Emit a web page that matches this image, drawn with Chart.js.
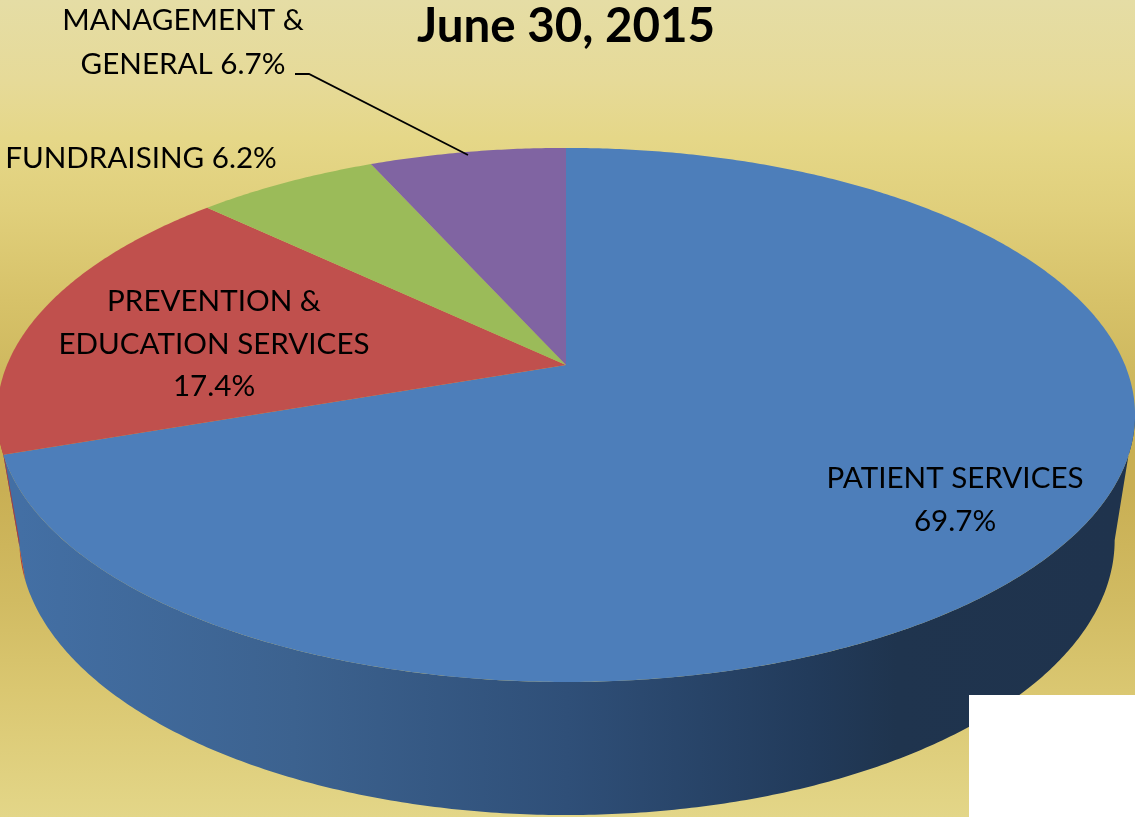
<!DOCTYPE html>
<html>
<head>
<meta charset="utf-8">
<style>
html,body{margin:0;padding:0;background:#fff;overflow:hidden}
canvas{display:block}
</style>
<script src="https://cdn.jsdelivr.net/npm/chart.js@4/dist/chart.umd.min.js"></script>
</head>
<body>
<canvas id="c" width="1135" height="817"></canvas>
<script>
const categories = ['PATIENT SERVICES','PREVENTION & EDUCATION SERVICES','FUNDRAISING','MANAGEMENT & GENERAL'];
const values = [69.7,17.4,6.2,6.7];
const titleText = 'June 30, 2015';
const sliceColors = ['#4D7EBA','#C0504D','#9BBB59','#8064A2'];

const FONT = 'Lato, "Open Sans", sans-serif';
const top3d = {cx:566, cy:365, A:559, B:257.7, p:0.187};
const low3d = {cx:567, cy:488.6, A:538, B:265.4, p:0.187};
const silhouette = 100.8*Math.PI/180;
const project = (g,phi)=>{
  const u=Math.sin(phi), v=Math.cos(phi), w=1+g.p*v;
  return [g.cx+g.A*u/w, g.cy-g.B*v/w];
};
const labelItems = [
  {t:'MANAGEMENT &',x:183,y:30},
  {t:'GENERAL 6.7%',x:183,y:74},
  {t:'FUNDRAISING 6.2%',x:141,y:168},
  {t:'PREVENTION &',x:214,y:311},
  {t:'EDUCATION SERVICES',x:214,y:354},
  {t:'17.4%',x:214,y:396},
  {t:'PATIENT SERVICES',x:955,y:488},
  {t:'69.7%',x:955,y:531}
];

const bgPlugin = {
  id:'bg',
  beforeDraw(chart){
    const {ctx,width,height}=chart;
    const g=ctx.createLinearGradient(0,0,0,height);
    [[0,'#E5DDA5'],[0.1,'#E6DA98'],[0.17,'#E5D788'],[0.257,'#E0CF7B'],[0.367,'#D7C269'],
     [0.453,'#CFB95F'],[0.55,'#C9AF52'],[0.6,'#C9AF54'],[0.735,'#D1BB62'],[0.845,'#DAC771'],[1,'#E3D688']]
      .forEach(s=>g.addColorStop(s[0],s[1]));
    ctx.save();ctx.fillStyle=g;ctx.fillRect(0,0,width,height);ctx.restore();
  }
};

const pie3d = {
  id:'pie3d',
  beforeDatasetDraw(chart,args){
    const {ctx}=chart;
    const arcs=chart.getDatasetMeta(args.index).data;
    const range=arcs.map(a=>{
      const p=a.getProps(['startAngle','endAngle'],true);
      return [p.startAngle+Math.PI/2,p.endAngle+Math.PI/2];
    });
    ctx.save();
    const sideGrad=ctx.createLinearGradient(20,0,1115,0);
    sideGrad.addColorStop(0,'#436FA4');
    sideGrad.addColorStop(0.25,'#3C628F');
    sideGrad.addColorStop(0.5,'#2F4F78');
    sideGrad.addColorStop(0.72,'#223B5B');
    sideGrad.addColorStop(0.8,'#1F344E');
    sideGrad.addColorStop(1,'#1F334D');
    const a0=silhouette, a1=2*Math.PI-silhouette;
    arcs.forEach((arc,i)=>{
      const s=Math.max(range[i][0],a0), e=Math.min(range[i][1],a1);
      if(e<=s) return;
      const pts=[];
      const n=Math.ceil((e-s)/(Math.PI/360));
      for(let k=0;k<=n;k++) pts.push(project(top3d,s+(e-s)*k/n));
      for(let k=n;k>=0;k--) pts.push(project(low3d,s+(e-s)*k/n));
      ctx.beginPath();
      pts.forEach((q,j)=>j?ctx.lineTo(q[0],q[1]):ctx.moveTo(q[0],q[1]));
      ctx.closePath();
      ctx.fillStyle = i===0 ? sideGrad : '#B03A37';
      ctx.fill();
    });
    arcs.forEach((arc,i)=>{
      const [s,e]=range[i];
      const n=Math.ceil((e-s)/(Math.PI/360));
      ctx.beginPath();
      ctx.moveTo(top3d.cx,top3d.cy);
      for(let k=0;k<=n;k++){const q=project(top3d,s+(e-s)*k/n);ctx.lineTo(q[0],q[1]);}
      ctx.closePath();
      ctx.fillStyle=arc.options.backgroundColor;
      ctx.fill();
    });
    ctx.restore();
    return false;
  }
};

const overlay = {
  id:'overlay',
  afterDatasetsDraw(chart){
    const {ctx}=chart;
    ctx.save();
    ctx.fillStyle='#FFFFFF';
    ctx.fillRect(969,695,166,122);
    ctx.strokeStyle='#000';ctx.lineWidth=1.8;
    ctx.beginPath();ctx.moveTo(295,74);ctx.lineTo(309,74);ctx.lineTo(468,155);ctx.stroke();
    ctx.fillStyle='#000';
    ctx.font='29.6px '+FONT;
    ctx.textAlign='center';ctx.textBaseline='alphabetic';
    labelItems.forEach(l=>ctx.fillText(l.t,l.x,l.y));
    ctx.restore();
  }
};

new Chart(document.getElementById('c'),{
  type:'pie',
  data:{labels:categories,datasets:[{data:values,backgroundColor:sliceColors,borderWidth:0}]},
  options:{
    responsive:false,animation:false,
    layout:{padding:{right:3}},
    plugins:{
      legend:{display:false},tooltip:{enabled:false},
      title:{display:true,text:titleText,color:'#000',align:'center',
        font:{family:FONT,size:47.5,weight:'bold',lineHeight:1},padding:{top:3,bottom:0}}
    }
  },
  plugins:[bgPlugin,pie3d,overlay]
});
</script>
</body>
</html>
